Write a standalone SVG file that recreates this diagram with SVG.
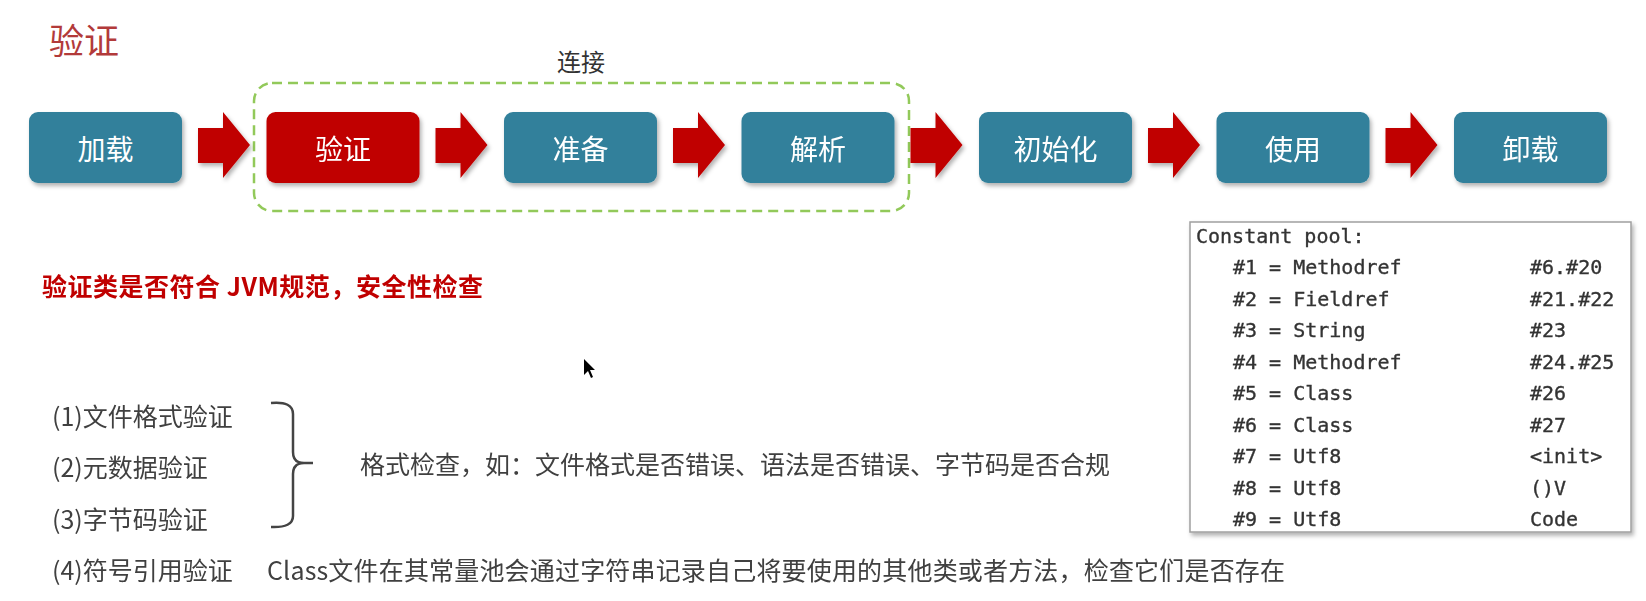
<svg xmlns="http://www.w3.org/2000/svg" width="1646" height="601" viewBox="0 0 1646 601">
<defs>
<style>
.cjk{font-family:"Noto Sans CJK SC","Noto Sans",sans-serif}
.box{fill:#31809B}
.boxr{fill:#C00000}
.bt{font-family:"Noto Sans CJK SC",sans-serif;font-size:28px;fill:#FFFFFF;text-anchor:middle;dominant-baseline:central}
.arr{fill:#C00000}
.lt{font-family:"Noto Sans CJK SC",sans-serif;font-size:25px;fill:#404040;dominant-baseline:central}
.mono{font-family:"DejaVu Sans Mono","Liberation Mono",monospace;font-size:20px;fill:#333333;stroke:#333333;stroke-width:0.35}
</style>
<filter id="sh" x="-20%" y="-20%" width="140%" height="150%">
<feDropShadow dx="2" dy="3" stdDeviation="2" flood-color="#000" flood-opacity="0.3"/>
</filter>
<path id="arrow" d="M0,128 L25,128 L25,112 L52,145 L25,178 L25,163 L0,163 Z"/>
</defs>
<rect width="1646" height="601" fill="#FFFFFF"/>

<text x="49" y="38" class="cjk" font-size="35" fill="#B23A3A" dominant-baseline="central">验证</text>

<g id="group-connect">
<rect x="254" y="83" width="655" height="128" rx="18" ry="18" fill="none" stroke="#92C95A" stroke-width="2.5" stroke-dasharray="10 6"/>
<text x="581" y="60" class="cjk" font-size="24" fill="#333333" text-anchor="middle" dominant-baseline="central">连接</text>
</g>

<g id="connectors" class="arr" filter="url(#sh)">
<use href="#arrow" x="198"/>
<use href="#arrow" x="435.5"/>
<use href="#arrow" x="673"/>
<use href="#arrow" x="910.5"/>
<use href="#arrow" x="1148"/>
<use href="#arrow" x="1385.5"/>
</g>

<g id="node-load"><rect x="29" y="112" width="153" height="71" rx="9" class="box" filter="url(#sh)"/><text x="105.5" y="148" class="bt">加载</text></g>
<g id="node-verify"><rect x="266.5" y="112" width="153" height="71" rx="9" class="boxr" filter="url(#sh)"/><text x="343" y="148" class="bt">验证</text></g>
<g id="node-prepare"><rect x="504" y="112" width="153" height="71" rx="9" class="box" filter="url(#sh)"/><text x="580.5" y="148" class="bt">准备</text></g>
<g id="node-resolve"><rect x="741.5" y="112" width="153" height="71" rx="9" class="box" filter="url(#sh)"/><text x="818" y="148" class="bt">解析</text></g>
<g id="node-init"><rect x="979" y="112" width="153" height="71" rx="9" class="box" filter="url(#sh)"/><text x="1055.5" y="148" class="bt">初始化</text></g>
<g id="node-use"><rect x="1216.5" y="112" width="153" height="71" rx="9" class="box" filter="url(#sh)"/><text x="1293" y="148" class="bt">使用</text></g>
<g id="node-unload"><rect x="1454" y="112" width="153" height="71" rx="9" class="box" filter="url(#sh)"/><text x="1530.5" y="148" class="bt">卸载</text></g>

<text x="42" y="285" class="cjk" font-size="25" font-weight="bold" fill="#C00000" dominant-baseline="central" textLength="441" lengthAdjust="spacing">验证类是否符合 JVM规范，安全性检查</text>

<path d="M584,359 L584,375 L588,371 L591,378 L593,377 L590,370 L595,370 Z" fill="#000"/>

<g id="list">
<text x="52" y="415" class="lt">(1)文件格式验证</text>
<text x="52" y="466" class="lt">(2)元数据验证</text>
<text x="52" y="518" class="lt">(3)字节码验证</text>
<text x="52" y="569" class="lt">(4)符号引用验证</text>
<path d="M271,403 Q293,401 293,414 L293,452 Q293,463 304,463 L313,463 M304,463 Q293,463 293,474 L293,516 Q293,528 271,527" fill="none" stroke="#444444" stroke-width="2.5"/>
<text x="360" y="463" class="lt">格式检查，如：文件格式是否错误、语法是否错误、字节码是否合规</text>
<text x="267" y="569" class="lt" textLength="1018" lengthAdjust="spacing">Class文件在其常量池会通过字符串记录自己将要使用的其他类或者方法，检查它们是否存在</text>
</g>

<g id="constant-pool">
<rect x="1190" y="222" width="441" height="310" fill="#FFFFFF" stroke="#A0A0A0" stroke-width="1.5" filter="url(#sh)"/>
<text class="mono" x="1196" y="243">Constant pool:</text>
<g class="mono">
<text x="1233" y="274">#1 = Methodref</text><text x="1530" y="274">#6.#20</text>
<text x="1233" y="305.5">#2 = Fieldref</text><text x="1530" y="305.5">#21.#22</text>
<text x="1233" y="337">#3 = String</text><text x="1530" y="337">#23</text>
<text x="1233" y="368.5">#4 = Methodref</text><text x="1530" y="368.5">#24.#25</text>
<text x="1233" y="400">#5 = Class</text><text x="1530" y="400">#26</text>
<text x="1233" y="431.5">#6 = Class</text><text x="1530" y="431.5">#27</text>
<text x="1233" y="463">#7 = Utf8</text><text x="1530" y="463">&lt;init&gt;</text>
<text x="1233" y="494.5">#8 = Utf8</text><text x="1530" y="494.5">()V</text>
<text x="1233" y="526">#9 = Utf8</text><text x="1530" y="526">Code</text>
</g>
</g>
</svg>
